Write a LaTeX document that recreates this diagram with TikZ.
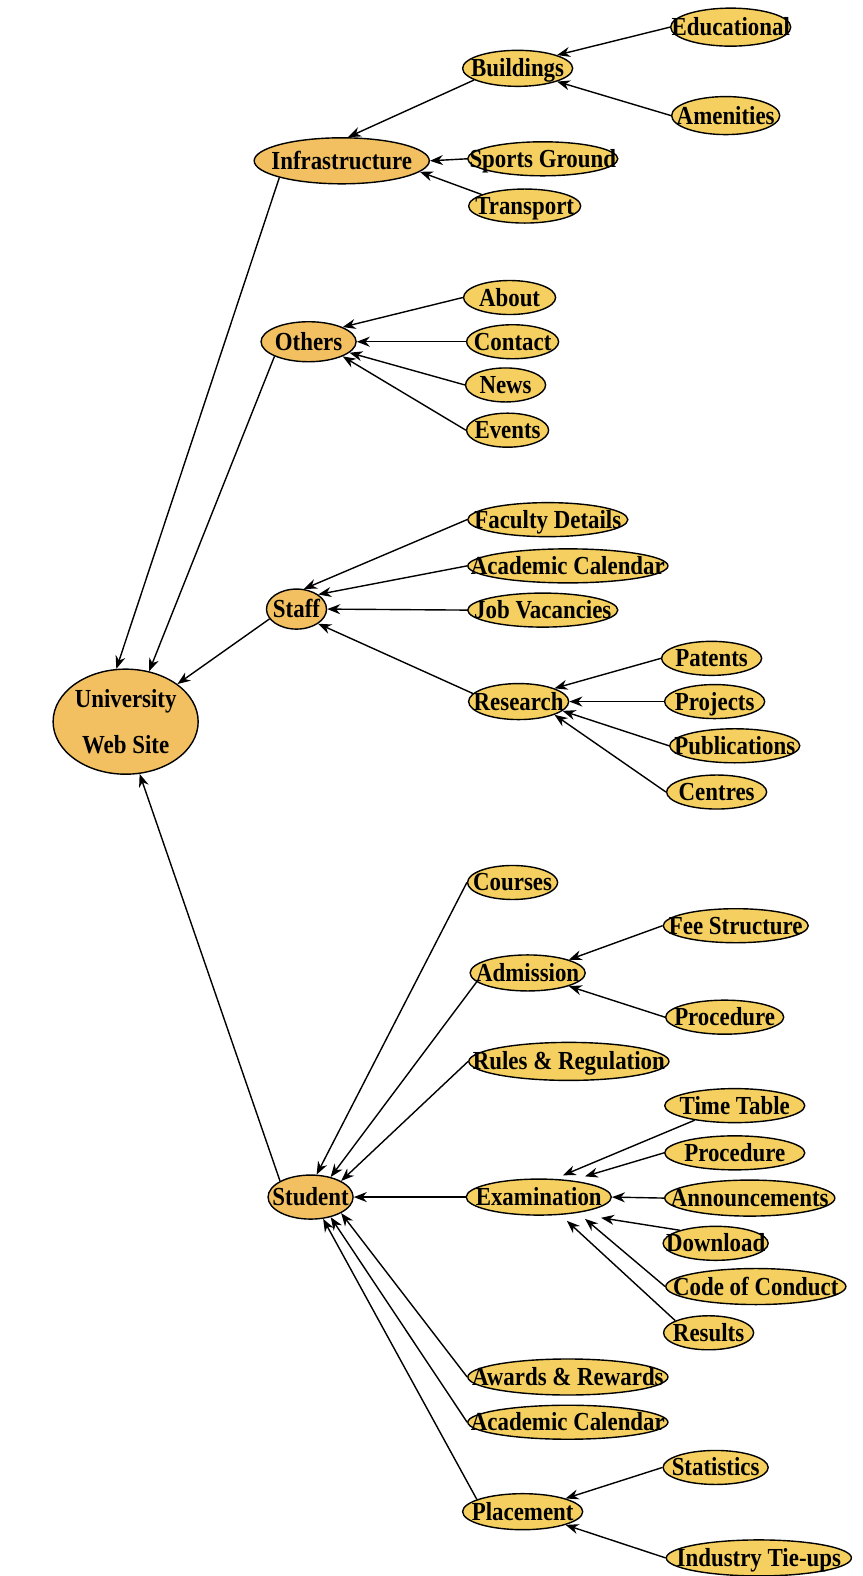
\documentclass[tikz,border=0pt]{standalone}
\usepackage{fontspec}
\newfontfamily\lblfont[FakeStretch=0.88]{Liberation Serif}
\usetikzlibrary{shapes.geometric,arrows.meta,calc}
\definecolor{leaf}{RGB}{245,208,96}
\definecolor{hub}{RGB}{242,192,96}
\tikzset{
  lblstyle/.style={font=\lblfont\bfseries\fontsize{26}{28}\selectfont, inner sep=0pt, text height=17pt, text depth=0pt},
  ell/.style={ellipse, draw=black, line width=1.4pt, fill=leaf, inner sep=0pt, minimum height=34pt,
              label={[lblstyle]center:#1}},
  hubell/.style={ell={#1}, fill=hub},
  conn/.style={-{Stealth[length=13pt,width=10pt]}, line width=1.4pt, black},
}
\begin{document}
\begin{tikzpicture}[x=1.00466pt, y=-1.00466pt]
\useasboundingbox[fill=white] (0,0) rectangle (858,1568);

% Infrastructure
\node[ell=Educational, minimum width=120, minimum height=38] (edu) at (727,27) {};
\node[ell=Buildings, minimum width=110, minimum height=36] (bld) at (515,68) {};
\node[ell=Amenities, minimum width=108, minimum height=38] (ame) at (722,115) {};
\node[hubell=Infrastructure, minimum width=175, minimum height=46] (infra) at (340,160) {};
\node[ell=Sports Ground, minimum width=150] (sg) at (540,158) {};
\node[ell=Transport, minimum width=112] (tr) at (522,205) {};

% Others
\node[hubell=Others, minimum width=95, minimum height=40] (oth) at (307,340) {};
\node[ell=About, minimum width=92] (about) at (507,296) {};
\node[ell=Contact, minimum width=92] (contact) at (510,340) {};
\node[ell=News, minimum width=80] (news) at (503,383) {};
\node[ell=Events, minimum width=82] (events) at (505,428) {};

% Staff
\node[ell=Faculty Details, minimum width=160] (fd) at (545,517) {};
\node[ell=Academic Calendar, minimum width=200] (ac1) at (565,563) {};
\node[hubell=Staff, minimum width=60, minimum height=40] (staff) at (295,606) {};
\node[ell=Job Vacancies, minimum width=150] (jv) at (540,607) {};
\node[ell=Research, minimum width=100, minimum height=36] (res) at (516,698) {};
\node[ell=Patents, minimum width=100] (pat) at (708,655) {};
\node[ell=Projects, minimum width=100] (proj) at (711,698) {};
\node[ell=Publications, minimum width=130] (pub) at (731,742) {};
\node[ell=Centres, minimum width=100] (cen) at (713,788) {};

% University
\node[ellipse, draw=black, line width=1.4pt, fill=hub, inner sep=0pt, minimum width=145, minimum height=105,
      align=center, font=\lblfont\bfseries\fontsize{26}{28}\selectfont] (univ) at (125,718) {University\\[18pt]Web Site};

% Student
\node[ell=Courses, minimum width=90] (cou) at (510,878) {};
\node[ell=Admission, minimum width=115, minimum height=36] (adm) at (525,968) {};
\node[ell=Fee Structure, minimum width=145] (fee) at (732,921) {};
\node[ell=Procedure, minimum width=118] (proc1) at (721,1012) {};
\node[ell=Rules \& Regulation, minimum width=200, minimum height=38] (rules) at (566,1056) {};
\node[ell=Time Table, minimum width=140] (tt) at (731,1100) {};
\node[ell=Procedure, minimum width=140] (proc2) at (731,1147) {};
\node[ell=Examination, minimum width=145, minimum height=36] (exam) at (536,1191) {};
\node[hubell=Student, minimum width=85, minimum height=44] (stu) at (309,1191) {};
\node[ell=Announcements, minimum width=170, minimum height=36] (ann) at (746,1192) {};
\node[ell=Download, minimum width=105] (dl) at (712,1237) {};
\node[ell=Code of Conduct, minimum width=180, minimum height=36] (coc) at (752,1280) {};
\node[ell=Results, minimum width=90] (res2) at (705,1326) {};
\node[ell=Awards \& Rewards, minimum width=200, minimum height=36] (aw) at (565,1370) {};
\node[ell=Academic Calendar, minimum width=200] (ac2) at (565,1415) {};
\node[ell=Statistics, minimum width=105] (stat) at (712,1460) {};
\node[ell=Placement, minimum width=120, minimum height=36] (pl) at (520,1504) {};
\node[ell=Industry Tie-ups, minimum width=185, minimum height=36] (ind) at (755,1550) {};

% Connectors
\draw[conn] (edu.west) -- (bld.north east);
\draw[conn] (ame.west) -- (bld.south east);
\draw[conn] (bld.195) -- (infra.75);
\draw[conn] (sg.west) -- (infra.east);
\draw[conn] (tr.165) -- (infra.-8);
\draw[conn] (infra.south west) -- (univ.100);

\draw[conn] (about.west) -- (oth.north east);
\draw[conn] (contact.west) -- (oth.east);
\draw[conn] (news.west) -- (oth.-15);
\draw[conn] (events.west) -- (oth.south east);
\draw[conn] (oth.south west) -- (univ.65);

\draw[conn] (fd.west) -- (staff.70);
\draw[conn] (ac1.west) -- (staff.north east);
\draw[conn] (jv.west) -- (staff.east);
\draw[conn] (res.170) -- (staff.south east);
\draw[conn] (staff.200) -- (univ.north east);

\draw[conn] (pat.west) -- (res.north east);
\draw[conn] (proj.west) -- (res.east);
\draw[conn] (pub.west) -- (res.-12);
\draw[conn] (cen.west) -- (res.south east);

\draw[conn] (stu.north west) -- (univ.-75);

\draw[conn] (fee.west) -- (adm.north east);
\draw[conn] (proc1.west) -- (adm.south east);

\draw[conn] (cou.west) -- (stu.75);
\draw[conn] (adm.190) -- (stu.45);
\draw[conn] (rules.west) -- (stu.north east);
\draw[conn] (exam.west) -- (stu.east);
\draw[conn] (aw.west) -- (stu.south east);
\draw[conn] (ac2.west) -- (stu.-45);
\draw[conn] (pl.165) -- (stu.-60);

\draw[conn] (tt.200) -- ($(exam.north)+(24,-3)$);
\draw[conn] (proc2.west) -- ($(exam.north)+(46,-2)$);
\draw[conn] (ann.west) -- (exam.east);
\draw[conn] (dl.160) -- ($(exam.south)+(62,2)$);
\draw[conn] (coc.west) -- ($(exam.south)+(46,3)$);
\draw[conn] (res2.160) -- ($(exam.south)+(28,5)$);

\draw[conn] (stat.west) -- (pl.north east);
\draw[conn] (ind.west) -- (pl.south east);
\end{tikzpicture}
\end{document}
